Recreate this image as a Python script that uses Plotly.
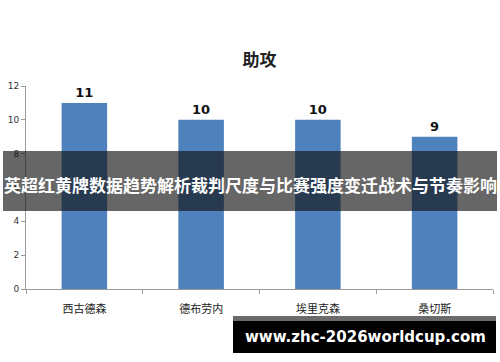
import plotly.graph_objects as go

title = "助攻"
players = ["西古德森", "德布劳内", "埃里克森", "桑切斯"]
assists = [11, 10, 10, 9]
y_ticks = [0, 2, 4, 6, 8, 10, 12]
banner_text = "英超红黄牌数据趋势解析裁判尺度与比赛强度变迁战术与节奏影响"
site_text = "www.zhc-2026worldcup.com"

W, H = 500, 362
L, R, T, B = 26, 7, 86, 73
PW, PH = W - L - R, H - T - B

def px(x):
    return (x - L) / PW

def py(y):
    return (H - B - y) / PH

fig = go.Figure(go.Bar(
    x=players, y=assists, width=0.39,
    marker=dict(color="#4F81BD", line=dict(width=0)),
    text=["<b>" + str(v) + "</b>" for v in assists], textposition="outside",
    textfont=dict(family="DejaVu Sans", size=13, color="#111111"),
    cliponaxis=False,
))

shapes = [
    dict(type="rect", xref="paper", yref="paper", x0=px(3), x1=px(497), y0=py(211), y1=py(151),
         fillcolor="rgba(20,20,20,0.65)", line=dict(width=0), layer="above"),
    dict(type="rect", xref="paper", yref="paper", x0=px(233), x1=px(496), y0=py(321), y1=py(316),
         fillcolor="#6b6b6b", line=dict(width=0), layer="above"),
    dict(type="rect", xref="paper", yref="paper", x0=px(233), x1=px(496), y0=py(353), y1=py(321),
         fillcolor="#000000", line=dict(width=0), layer="above"),
]

annotations = [
    dict(text="<b>" + banner_text + "</b>", xref="paper", yref="paper", x=px(250), y=py(184),
         showarrow=False, xanchor="center", yanchor="middle",
         font=dict(family="Noto Sans CJK SC", size=17, color="white")),
    dict(text="<b>" + site_text + "</b>", xref="paper", yref="paper", x=px(365), y=py(337),
         showarrow=False, xanchor="center", yanchor="middle",
         font=dict(family="DejaVu Sans", size=15, color="white")),
]

fig.update_layout(
    width=W, height=H,
    margin=dict(l=L, r=R, t=T, b=B, pad=0),
    paper_bgcolor="white", plot_bgcolor="white",
    title=dict(text="<b>" + title + "</b>", x=0.5, xref="paper", y=1 - 60 / H, yanchor="middle",
               font=dict(family="Noto Sans CJK SC", size=17, color="#222222")),
    shapes=shapes, annotations=annotations,
    showlegend=False, bargap=0.61,
)
fig.update_xaxes(
    showline=True, linecolor="#9a9a9a", linewidth=1,
    ticks="outside", tickson="boundaries", ticklen=4, tickcolor="#9a9a9a",
    ticklabelstandoff=10,
    tickfont=dict(family="Noto Sans CJK SC", size=11, color="#222222"),
    showgrid=False, zeroline=False,
)
fig.update_yaxes(
    range=[0, 12], tickvals=y_ticks, showline=True, linecolor="#9a9a9a", linewidth=1,
    ticks="outside", ticklen=4, tickcolor="#9a9a9a",
    tickfont=dict(family="DejaVu Sans", size=9, color="#333333"),
    showgrid=False, zeroline=False,
)

fig.write_html("out.html")
